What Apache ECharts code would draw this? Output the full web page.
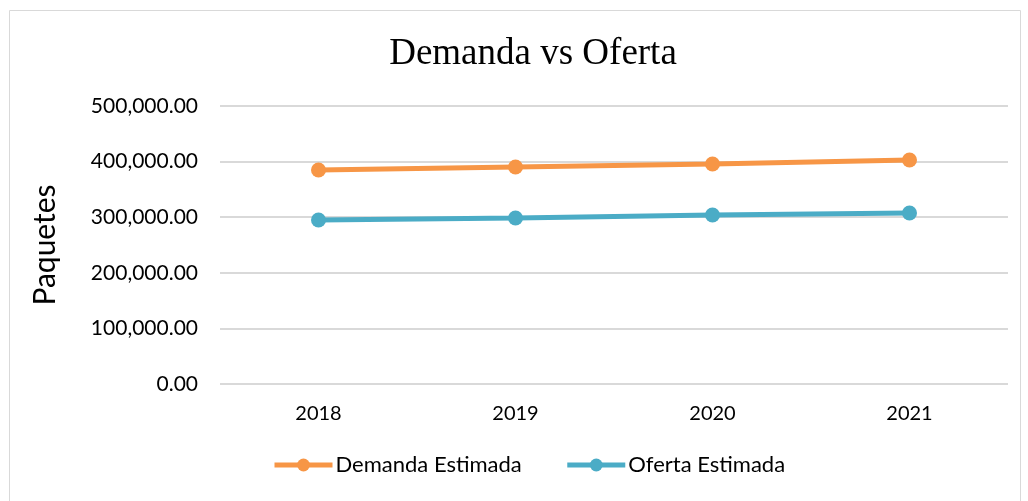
<!DOCTYPE html>
<html>
<head>
<meta charset="utf-8">
<script src="https://cdn.jsdelivr.net/npm/echarts@6/dist/echarts.min.js"></script>
<style>
  html, body { margin: 0; padding: 0; background: #fff; }
</style>
</head>
<body>
<div id="chart" style="width: 1028px; height: 501px"></div>
<script>
var years = ["2018", "2019", "2020", "2021"];
var demanda = [384900, 390300, 395700, 402900];
var oferta = [295000, 298600, 304000, 307600];
var yTicks = [0, 100000, 200000, 300000, 400000, 500000];

function fmt(v) {
  var s = Math.round(v).toString().replace(/\B(?=(\d{3})+(?!\d))/g, ",");
  return s + ".00";
}

var chart = echarts.init(document.getElementById("chart"));
chart.setOption({
  animation: false,
  // marco gris alrededor del gráfico
  graphic: [{
    type: "rect",
    shape: { x: 9.5, y: 10.5, width: 1011, height: 500 },
    style: { fill: "none", stroke: "#d9d9d9", lineWidth: 1 },
    silent: true
  }],
  title: {
    text: "Demanda vs Oferta",
    left: 528,
    textAlign: "center",
    top: 31,
    textStyle: {
      fontFamily: "Liberation Serif",
      fontWeight: "normal",
      fontSize: 37,
      color: "#000"
    }
  },
  grid: { left: 220, right: 20, top: 106, bottom: 117, containLabel: false },
  legend: {
    bottom: 20,
    left: 267,
    itemWidth: 58,
    itemHeight: 16,
    itemGap: 43,
    lineStyle: { width: 5 },
    textStyle: { fontFamily: "Lato", fontSize: 22, color: "#000", padding: [0, 0, 0, -2] },
    data: ["Demanda Estimada", "Oferta Estimada"]
  },
  xAxis: {
    type: "category",
    data: years,
    boundaryGap: true,
    axisLine: { show: false },
    axisTick: { show: false },
    axisLabel: { fontFamily: "Lato", fontSize: 20, color: "#000", margin: 20 }
  },
  yAxis: {
    type: "value",
    min: yTicks[0],
    max: yTicks[yTicks.length - 1],
    interval: yTicks[1] - yTicks[0],
    name: "Paquetes",
    nameLocation: "middle",
    nameGap: 160,
    nameRotate: 90,
    nameTextStyle: { fontFamily: "Lato", fontSize: 30, color: "#000" },
    axisLine: { show: false },
    axisTick: { show: false },
    axisLabel: {
      fontFamily: "Lato", fontSize: 21, color: "#000", margin: 22,
      formatter: fmt
    },
    splitLine: { lineStyle: { color: "#d9d9d9", width: 2 } }
  },
  series: [
    {
      name: "Demanda Estimada",
      type: "line",
      data: demanda,
      symbol: "circle",
      symbolSize: 15,
      itemStyle: { color: "#F79646" },
      lineStyle: { color: "#F79646", width: 5 }
    },
    {
      name: "Oferta Estimada",
      type: "line",
      data: oferta,
      symbol: "circle",
      symbolSize: 15,
      itemStyle: { color: "#4BACC6" },
      lineStyle: { color: "#4BACC6", width: 5 }
    }
  ]
});
</script>
</body>
</html>
